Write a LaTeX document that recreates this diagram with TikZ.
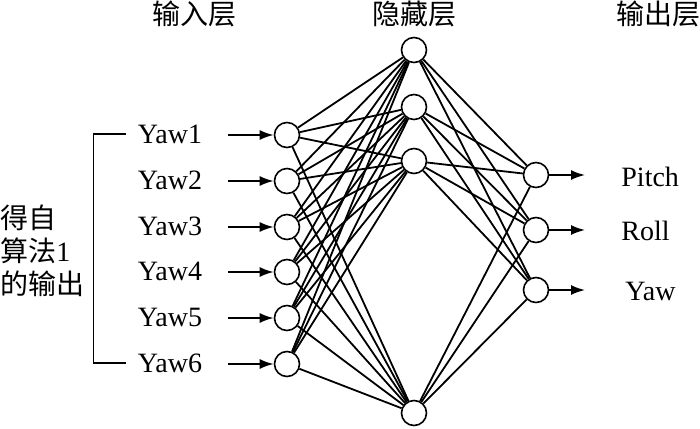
\documentclass[tikz,border=0pt]{standalone}
\usepackage{fontspec}
\setmainfont{Liberation Serif}
\newfontfamily\cjk{Noto Sans CJK SC}
\usetikzlibrary{arrows.meta}
\tikzset{>={Latex[width=5pt,length=7pt]}}
\tikzset{
  neuron/.style={circle, draw, line width=0.8pt, fill=white,
    minimum size=12.5pt, inner sep=0pt},
  txt/.style={font=\fontsize{14}{16}\selectfont, inner sep=0pt},
  head/.style={font=\cjk\fontsize{14}{16}\selectfont, inner sep=0pt},
  wire/.style={line width=0.9pt}
}

\begin{document}
\begin{tikzpicture}[x=0.5pt, y=-0.5pt]

  \useasboundingbox (0,0) rectangle (700,428);

  %% layer titles
  \node[head] (tin)  at (194,14) {输入层};
  \node[head] (thid) at (414,14) {隐藏层};
  \node[head] (tout) at (658,14) {输出层};

  %% input layer
  \foreach \i/\y in {1/135, 2/181, 3/227, 4/272, 5/318, 6/364}{
    \node[neuron] (in\i) at (287,\y) {};
    \node[txt] (y\i) at (170,\y-1) {Yaw\i};
    \draw[->, wire] (228,\y) coordinate (a\i) -- (in\i);
  }

  %% hidden layer
  \foreach \j/\y in {1/50, 2/107, 3/161, 4/413}{
    \node[neuron] (hd\j) at (414,\y) {};
  }

  %% output layer
  \node[neuron] (out1) at (536,175) {};
  \node[neuron] (out2) at (536,230) {};
  \node[neuron] (out3) at (536,290) {};
  \coordinate (e1) at (585,175);
  \coordinate (e2) at (585,230);
  \coordinate (e3) at (585,290);
  \draw[->, wire] (out1) -- (e1);
  \draw[->, wire] (out2) -- (e2);
  \draw[->, wire] (out3) -- (e3);
  \node[txt, anchor=west] (pitch) at (621,177) {Pitch};
  \node[txt, anchor=west] (roll)  at (621,231) {Roll};
  \node[txt, anchor=west] (yaw)   at (625,291) {Yaw};

  %% full connections
  \foreach \i in {1,...,6}
    \foreach \j in {1,...,4}
      \draw[wire] (in\i) -- (hd\j);
  \foreach \j in {1,...,4}
    \foreach \k in {1,2,3}
      \draw[wire] (hd\j) -- (out\k);

  %% bracket and source text
  \draw[wire] ([xshift=-6pt]y1.west) -- ++(-16pt,0) |- ([xshift=-6pt]y6.west);
  \node[head, anchor=west, align=left, font=\cjk\fontsize{14}{16.5}\selectfont]
    (src) at (0,251) {得自\\算法{\rmfamily 1}\\的输出};

\end{tikzpicture}
\end{document}
